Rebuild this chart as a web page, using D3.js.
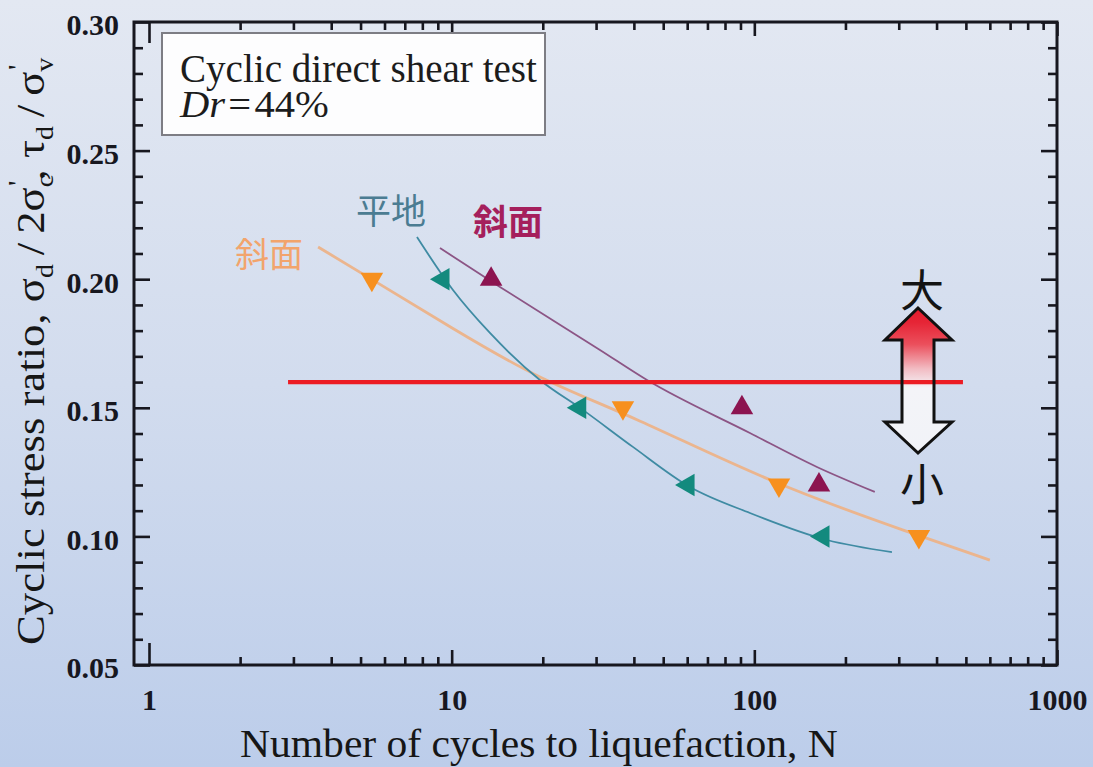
<!DOCTYPE html>
<html>
<head>
<meta charset="utf-8">
<script src="https://cdn.jsdelivr.net/npm/d3@7/dist/d3.min.js"></script>
<style>
  html, body { margin: 0; padding: 0; background: #dfe5f0; }
  svg { display: block; }
</style>
</head>
<body>
<svg id="chart" width="1093" height="767"></svg>
<script>
// ---- axis ticks ----
const xTicks = [1, 10, 100, 1000];
const yTicks = [0.05, 0.10, 0.15, 0.20, 0.25, 0.30];

// ---- 斜面 (orange, ▼): test results and fitted curve ----
const slopeA_N = [5.45, 36.8, 120.6, 349.7];
const slopeA_R = [0.20, 0.15, 0.12, 0.10];
const slopeA_curveN = [3.62, 5.50, 9.87, 19.58, 39.7, 112.6, 344.7, 600];
const slopeA_curveR = [0.2125, 0.1997, 0.1814, 0.1608, 0.1468, 0.1208, 0.1005, 0.0908];

// ---- 平地 (teal, ◀): test results and fitted curve ----
const flat_N = [9.36, 26.5, 60.4, 168.6];
const flat_R = [0.20, 0.15, 0.12, 0.10];
const flat_curveN = [7.68, 10.1, 13.38, 19.57, 27.2, 39.7, 61.3, 96.7, 173.8, 284.9];
const flat_curveR = [0.2164, 0.1958, 0.1791, 0.1608, 0.1491, 0.1348, 0.1192, 0.1091, 0.0986, 0.0939];

// ---- 斜面 (maroon, ▲): test results and fitted curve ----
const slopeB_N = [13.5, 91, 163.5];
const slopeB_R = [0.20, 0.15, 0.12];
const slopeB_curveN = [9.15, 14.44, 30.9, 44.2, 96.7, 161, 250];
const slopeB_curveR = [0.2121, 0.197, 0.1725, 0.1608, 0.1402, 0.127, 0.1173];

// ---- reference stress ratio line ----
const refLineN = [2.88, 489];
const refLineR = [0.16, 0.16];

// ---- layout ----
const W = 1093, H = 767;
const L = 134, R = 1057, T = 22, B = 665;
const x1px = 149;   // position of N = 1
const serif = "'Liberation Serif', 'Times New Roman', serif";
const cjk = "'Noto Sans CJK JP', 'Noto Sans CJK SC', sans-serif";
const ink = "#17171f";

const svg = d3.select("#chart");
const defs = svg.append("defs");

const bg = defs.append("linearGradient").attr("id", "bg")
  .attr("x1", 0).attr("y1", 0).attr("x2", 0).attr("y2", 1);
bg.append("stop").attr("offset", 0).attr("stop-color", "#e3e8f2");
bg.append("stop").attr("offset", 0.5).attr("stop-color", "#d2dcee");
bg.append("stop").attr("offset", 1).attr("stop-color", "#bccdea");

const ag = defs.append("linearGradient").attr("id", "arrowFill")
  .attr("gradientUnits", "userSpaceOnUse")
  .attr("x1", 0).attr("y1", 308).attr("x2", 0).attr("y2", 453);
[[0, "#e41c2c"], [0.1, "#e62536"], [0.25, "#eb4f5c"], [0.42, "#f2bcc3"],
 [0.55, "#f4f4f8"], [1, "#f1f3f8"]].forEach(([o, c]) =>
  ag.append("stop").attr("offset", o).attr("stop-color", c));

svg.append("rect").attr("width", W).attr("height", H).attr("fill", "url(#bg)");

// ---- scales ----
const x = d3.scaleLog().domain([1, 1000]).range([x1px, R]);
const y = d3.scaleLinear().domain([0.05, 0.30]).range([B, T]);

// ---- minor tick values ----
const xMinor = [];
[1, 10, 100].forEach(d => { for (let k = 2; k <= 9; k++) xMinor.push(d * k); });
const yMinor = d3.range(6, 30).filter(v => v % 5 !== 0).map(v => v / 100);

function styleAxis(g) {
  g.select(".domain").remove();
  g.selectAll(".tick line").attr("stroke", ink).attr("stroke-width", 2.6);
  g.attr("font-family", serif).attr("font-size", 30).attr("font-weight", "bold")
   .attr("color", ink);
}

// bottom
svg.append("g").attr("transform", `translate(0,${B})`)
  .call(d3.axisBottom(x).tickValues(xMinor).tickSize(-8).tickFormat(""))
  .call(styleAxis);
const gxb = svg.append("g").attr("transform", `translate(0,${B})`)
  .call(d3.axisBottom(x).tickValues(xTicks).tickSizeInner(-15).tickSizeOuter(0)
        .tickPadding(24).tickFormat(d3.format("d")))
  .call(styleAxis);
gxb.selectAll(".tick").filter(d => d === 1).select("line").attr("y2", -22);

// top
svg.append("g").attr("transform", `translate(0,${T})`)
  .call(d3.axisTop(x).tickValues(xMinor).tickSize(-8).tickFormat(""))
  .call(styleAxis);
const gxt = svg.append("g").attr("transform", `translate(0,${T})`)
  .call(d3.axisTop(x).tickValues(xTicks).tickSize(-14).tickFormat(""))
  .call(styleAxis);
gxt.selectAll(".tick").filter(d => d === 1).select("line").attr("y2", 21);

// left
svg.append("g").attr("transform", `translate(${L},0)`)
  .call(d3.axisLeft(y).tickValues(yMinor).tickSize(-9).tickFormat(""))
  .call(styleAxis);
const gyl = svg.append("g").attr("transform", `translate(${L},0)`)
  .call(d3.axisLeft(y).tickValues(yTicks).tickSizeInner(-16).tickSizeOuter(0)
        .tickPadding(15).tickFormat(d3.format(".2f")))
  .call(styleAxis);
gyl.selectAll(".tick text").attr("dy", "0.43em");

// right
svg.append("g").attr("transform", `translate(${R},0)`)
  .call(d3.axisRight(y).tickValues(yMinor).tickSize(-9).tickFormat(""))
  .call(styleAxis);
svg.append("g").attr("transform", `translate(${R},0)`)
  .call(d3.axisRight(y).tickValues(yTicks).tickSize(-16).tickFormat(""))
  .call(styleAxis);

// frame
svg.append("rect").attr("x", L).attr("y", T).attr("width", R - L).attr("height", B - T)
  .attr("fill", "none").attr("stroke", ink).attr("stroke-width", 3);

// ---- legend box ----
svg.append("rect").attr("x", 162).attr("y", 33).attr("width", 383).attr("height", 102)
  .attr("fill", "#fdfdfe").attr("stroke", "#7d7d84").attr("stroke-width", 2);

function fitText(sel, target) {
  const w = sel.node().getBBox().width;
  const ax = +sel.attr("x") || 0;
  sel.attr("transform", `translate(${ax},0) scale(${target / w},1) translate(${-ax},0)`);
}

const leg1 = svg.append("text").attr("x", 180).attr("y", 82)
  .attr("font-family", serif).attr("font-size", 40).attr("fill", "#1c1c1c")
  .text("Cyclic direct shear test");
fitText(leg1, 357);
const leg2 = svg.append("text").attr("x", 180).attr("y", 117)
  .attr("font-family", serif).attr("font-size", 38).attr("fill", "#1c1c1c");
leg2.append("tspan").attr("font-style", "italic").text("Dr");
leg2.append("tspan").attr("dx", 3).text("=\u200a44%");
fitText(leg2, 150);

// ---- fitted curves ----
const line = d3.line().x(d => x(d[0])).y(d => y(d[1])).curve(d3.curveMonotoneX);
const smooth = d3.line().x(d => x(d[0])).y(d => y(d[1])).curve(d3.curveBasis);
const zip = (a, b) => a.map((v, i) => [v, b[i]]);

svg.append("path").datum(zip(slopeA_curveN, slopeA_curveR)).attr("d", smooth)
  .attr("fill", "none").attr("stroke", "#ebb58e").attr("stroke-width", 2.8);
svg.append("path").datum(zip(flat_curveN, flat_curveR)).attr("d", line)
  .attr("fill", "none").attr("stroke", "#3f8ba3").attr("stroke-width", 1.8);
svg.append("path").datum(zip(slopeB_curveN, slopeB_curveR)).attr("d", line)
  .attr("fill", "none").attr("stroke", "#8c5585").attr("stroke-width", 1.8);

// ---- markers ----
const tri = d3.symbol().type(d3.symbolTriangle).size(220);
function markers(N, Rv, color, rot) {
  svg.append("g").selectAll("path").data(zip(N, Rv)).join("path")
    .attr("d", tri)
    .attr("transform", d => `translate(${x(d[0])},${y(d[1])}) rotate(${rot})`)
    .attr("fill", color);
}
markers(slopeA_N, slopeA_R, "#f7901e", 180);
markers(flat_N, flat_R, "#138a7e", -90);
markers(slopeB_N, slopeB_R, "#8c1450", 0);

// ---- arrow (大 / 小) ----
const arrowPts = [[918, 308], [952, 340], [934, 340], [934, 422], [952, 422], [918, 453],
                  [885, 422], [902, 422], [902, 340], [885, 340]];
const arrowPath = "M" + arrowPts.map(p => p.join(",")).join("L") + "Z";
svg.append("path").attr("d", arrowPath).attr("fill", "url(#arrowFill)");

// ---- reference line ----
svg.append("path").datum(zip(refLineN, refLineR))
  .attr("d", d3.line().x(d => x(d[0])).y(d => y(d[1])))
  .attr("stroke", "#ec1c24").attr("stroke-width", 4.2).attr("fill", "none");

svg.append("path").attr("d", arrowPath).attr("fill", "none")
  .attr("stroke", "#111").attr("stroke-width", 3).attr("stroke-linejoin", "miter");

svg.append("text").attr("x", 922).attr("y", 288).attr("text-anchor", "middle")
  .attr("dominant-baseline", "central").attr("font-family", cjk).attr("font-size", 44)
  .attr("fill", "#141414").text("大");
svg.append("text").attr("x", 922).attr("y", 482).attr("text-anchor", "middle")
  .attr("dominant-baseline", "central").attr("font-family", cjk).attr("font-size", 44)
  .attr("fill", "#141414").text("小");

// ---- series labels ----
[["斜面", 269, 252, "#f2a46c", 34, 400],
 ["平地", 391, 208, "#4b7c92", 35, 400],
 ["斜面", 508, 219, "#a51f5c", 35, 700]].forEach(([t, cx, cy, c, fs, fw]) => {
  svg.append("text").attr("x", cx).attr("y", cy).attr("text-anchor", "middle")
    .attr("dominant-baseline", "central").attr("font-family", cjk)
    .attr("font-size", fs).attr("font-weight", fw).attr("fill", c).text(t);
});

// ---- axis titles ----
const xt = svg.append("text").attr("x", 240).attr("y", 757)
  .attr("font-family", serif).attr("font-size", 40).attr("fill", "#161616")
  .text("Number of cycles to liquefaction, N");
fitText(xt, 598);

// y title: rotated, with Greek symbols, subscripts and primes
const yg = svg.append("g").attr("transform", "translate(44,645) rotate(-90)");
const yt = yg.append("text").attr("x", 0).attr("y", 0)
  .attr("font-family", serif).attr("font-size", 40).attr("fill", "#161616");
const parts = [
  { t: "Cyclic stress ratio, σ", o: 0 },
  { t: "d", o: 9, s: 25 },
  { t: "\u2009/\u20092σ", o: 0 },
  { t: "c", o: 9, s: 25 },
  { t: "'", o: -17, s: 28, dx: -10 },
  { t: ", τ", o: 0 },
  { t: "d", o: 9, s: 25 },
  { t: "\u2009/\u2009σ", o: 0 },
  { t: "v", o: 9, s: 25 },
  { t: "'", o: -17, s: 28, dx: -11 }
];
let cur = 0;
parts.forEach(p => {
  const ts = yt.append("tspan").attr("dy", p.o - cur).text(p.t);
  if (p.s) ts.attr("font-size", p.s);
  if (p.dx) ts.attr("dx", p.dx);
  cur = p.o;
});
fitText(yt, 588);
</script>
</body>
</html>
